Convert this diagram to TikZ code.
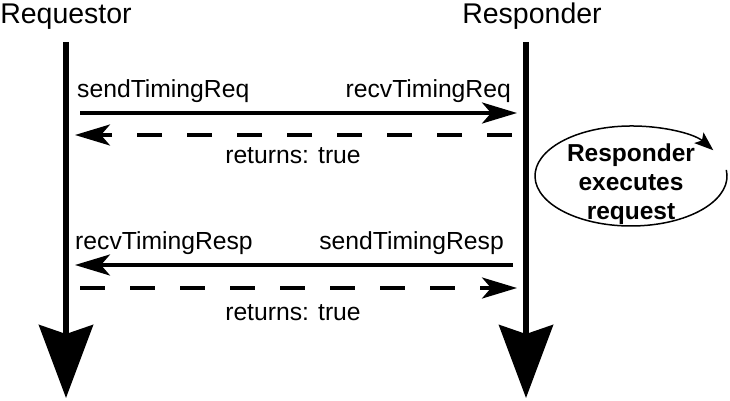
\documentclass[tikz,border=0pt]{standalone}
\usepackage{fontspec}
\setmainfont{Liberation Sans}
\usetikzlibrary{arrows.meta}
\begin{document}
\begin{tikzpicture}[x=1pt,y=1pt,
  lifeline/.style={line width=5.5pt,-{Stealth[length=73pt,width=54pt,inset=9pt]}},
  msg/.style={line width=3.2pt,-{Stealth[length=35pt,width=21pt,inset=9pt]}},
  ret/.style={msg,dash pattern=on 25pt off 25pt},
  lbl/.style={font=\fontsize{24.7}{29}\selectfont,inner sep=0pt},
  title/.style={font=\fontsize{28.5}{34}\selectfont,inner sep=0pt},
  note/.style={font=\bfseries\fontsize{24.5}{29}\selectfont,align=center,inner sep=0pt}]
\useasboundingbox (0,0) rectangle (730,400);
% titles
\node[title,anchor=base] (req) at (66,377) {Requestor};
\node[title,anchor=base] (resp) at (532,377) {Responder};
% lifelines
\coordinate (reqTop) at (66,358);
\coordinate (reqEnd) at (66,2);
\coordinate (respTop) at (526,358);
\coordinate (respEnd) at (526,2);
\draw[lifeline] (reqTop) -- (reqEnd);
\draw[lifeline] (respTop) -- (respEnd);
% message endpoints
\coordinate (m1a) at (80,287);
\coordinate (m1b) at (517,287);
\coordinate (m2a) at (512,265);
\coordinate (m2b) at (75,265);
\coordinate (m3a) at (513,135);
\coordinate (m3b) at (75,135);
\coordinate (m4a) at (80,112);
\coordinate (m4b) at (517,112);
\draw[msg] (m1a) -- (m1b);
\draw[ret] (m2a) -- (m2b);
\draw[msg] (m3a) -- (m3b);
\draw[ret] (m4a) -- (m4b);
% labels
\node[lbl,anchor=base west] (l1) at (77,303) {sendTimingReq};
\node[lbl,anchor=base east] (l2) at (511,303) {recvTimingReq};
\node[lbl,anchor=base] (l3) at (293,237) {returns: true};
\node[lbl,anchor=base west] (l4) at (75,151) {recvTimingResp};
\node[lbl,anchor=base east] (l5) at (504,151) {sendTimingResp};
\node[lbl,anchor=base] (l6) at (293,80) {returns: true};
% execution note
\coordinate (ec) at (631,224);
\draw[line width=1.5pt,-{Stealth[length=19pt,width=14pt,inset=4pt]}]
  ([shift={(7:96 and 50)}]ec) arc[start angle=7,end angle=-329,x radius=96,y radius=50];
\node[note] (exec) at (631,216) {Responder\\executes\\request};
\end{tikzpicture}
\end{document}
